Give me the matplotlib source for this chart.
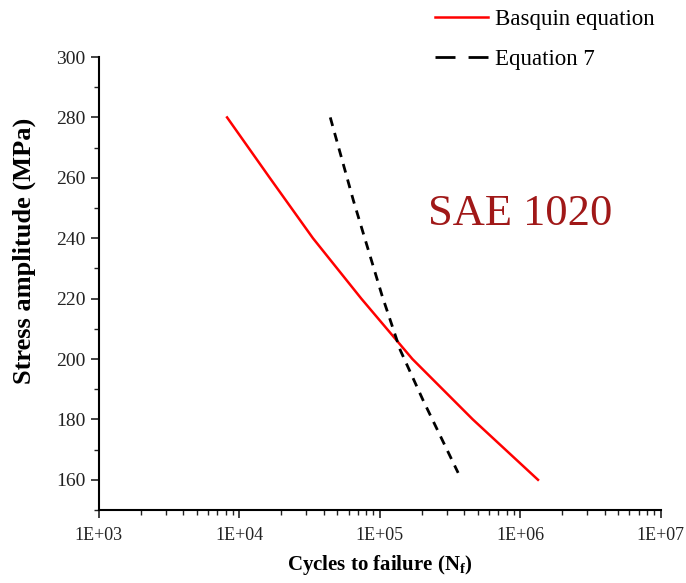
import matplotlib
matplotlib.use("Agg")
import matplotlib.pyplot as plt
from matplotlib.lines import Line2D
from matplotlib.ticker import LogLocator, FuncFormatter, MultipleLocator
import numpy as np

# datos
basquin_N = [8.2e3, 1.65e4, 3.35e4, 7.4e4, 1.71e5, 4.6e5, 1.34e6]
basquin_S = [280, 260, 240, 220, 200, 180, 160]
eq7_N = [4.45e4, 6.5e4, 1.04e5, 1.40e5, 2.03e5, 3.62e5]
eq7_S = [280, 252.5, 221, 203, 186.5, 162.3]

plt.rcParams["font.family"] = ["Liberation Serif", "DejaVu Serif"]
plt.rcParams["mathtext.fontset"] = "custom"
plt.rcParams["mathtext.rm"] = "Liberation Serif:bold"

fig = plt.figure(figsize=(6.86, 5.83), dpi=100)
ax = fig.add_axes([0.1439, 0.1252, 0.8191, 0.7770])

ax.plot(basquin_N, basquin_S, color="#ff0000", lw=1.8)
ax.plot(eq7_N, eq7_S, color="black", lw=2.0, dashes=(3.2, 2.6))

ax.set_xscale("log")
ax.set_xlim(1e3, 1e7)
ax.set_ylim(150, 300)

ax.spines["top"].set_visible(False)
ax.spines["right"].set_visible(False)
ax.spines["left"].set_linewidth(1.5)
ax.spines["bottom"].set_linewidth(1.5)

ax.xaxis.set_major_locator(LogLocator(base=10, numticks=10))
ax.xaxis.set_minor_locator(LogLocator(base=10, subs=np.arange(2, 10), numticks=20))
ax.xaxis.set_major_formatter(FuncFormatter(lambda v, p: "1E+%02d" % round(np.log10(v))))
ax.yaxis.set_minor_locator(MultipleLocator(10))
ax.set_yticks([160, 180, 200, 220, 240, 260, 280, 300])

ax.tick_params(which="major", direction="out", length=6, width=1.2, colors="#222222")
ax.tick_params(which="minor", direction="out", length=3.5, width=1.0, colors="#222222")
ax.tick_params(axis="x", pad=6, labelsize=13)
ax.tick_params(axis="y", labelsize=14)

ax.set_xlabel("Cycles to failure (N$_\\mathregular{f}$)", fontsize=15, fontweight="bold")
ax.set_ylabel("Stress amplitude (MPa)", fontsize=19, fontweight="bold")
ax.xaxis.set_label_coords(0.5, -0.095)
ax.yaxis.set_label_coords(-0.112, 0.572)

ax.text(2.2e5, 248, "SAE 1020", color="#a01818", fontsize=32, ha="left", va="center")

#leyenda fuera del grafico
handles = [Line2D([], [], color="#ff0000", lw=1.8),
           Line2D([], [], color="black", lw=2.0, dashes=(7.2, 4.7))]
fig.legend(handles, ["Basquin equation", "Equation 7"], loc="upper left",
           bbox_to_anchor=(435 / 686, 0.984), frameon=False, fontsize=16.5,
           handlelength=2.3, handletextpad=0.3, labelspacing=0.8,
           borderpad=0, borderaxespad=0)

fig.savefig("out.png", dpi=100)
